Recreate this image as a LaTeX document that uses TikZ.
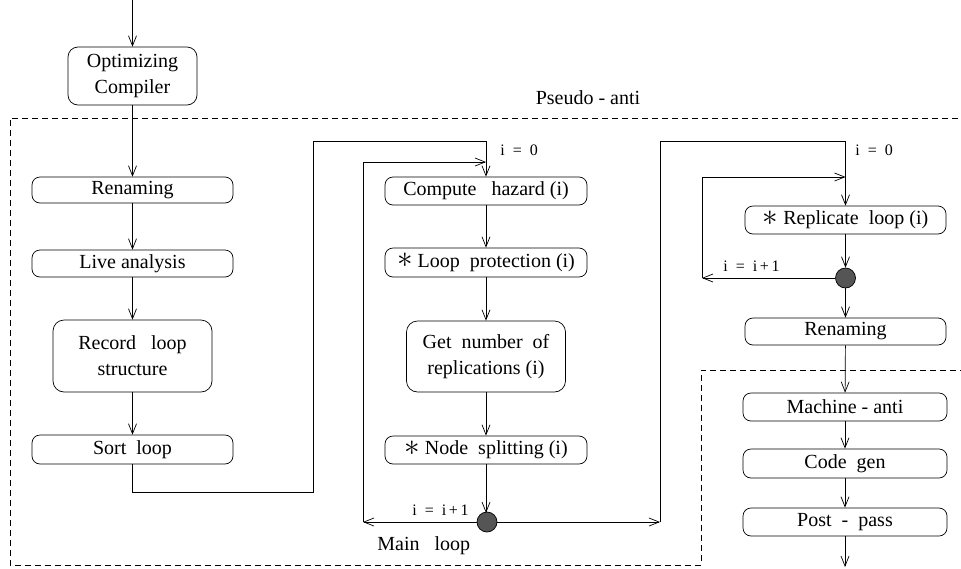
\documentclass[tikz,border=0pt]{standalone}
\usepackage{fontspec}
\setmainfont{Liberation Serif}
\usetikzlibrary{arrows.meta}
\newcommand{\starmark}{\raisebox{-0.5pt}{\scalebox{1.5}{$\ast$}}}
\begin{document}
\begin{tikzpicture}[x=1pt,y=-1pt,
  line width=0.7pt,
  >={Straight Barb[length=10pt,width=8pt,line width=0.7pt]},
  proc/.style={draw,rounded corners=8pt,inner sep=0pt,align=center,
    font=\fontsize{20}{26}\selectfont},
  procw/.style={proc,minimum width=201pt,minimum height=28pt},
  procn/.style={proc,minimum width=159pt,minimum height=72pt,rounded corners=11pt},
  junction/.style={circle,draw,fill={rgb,255:red,85;green,85;blue,85},
    minimum size=20pt,inner sep=0pt},
  lbl/.style={inner sep=0pt,font=\fontsize{16}{18}\selectfont},
  biglbl/.style={inner sep=0pt,font=\fontsize{20}{22}\selectfont},
  region/.style={dash pattern=on 6pt off 4pt}]
\useasboundingbox (0,0) rectangle (961,568);

% dashed regions
\draw[region] (958,118) -- (10,118) -- (10,565) -- (701,565) -- (701,370) -- (961,370);
\node[biglbl] (pseudo) at (588,98) {Pseudo - anti};

% left column
\coordinate (entry) at (132.5,0);
\node[proc,minimum width=129pt,minimum height=58pt,rounded corners=10pt] (opt) at (132.5,76) {Optimizing\\Compiler};
\node[procw,minimum height=26pt] (ren1) at (132.5,190) {Renaming};
\node[procw,minimum height=27pt] (live) at (132.5,263.5) {Live analysis};
\node[procn] (rec) at (132.5,356) {Record\ \ \ loop\\structure};
\node[procw,minimum height=29pt] (sort) at (132.5,449.5) {Sort\ \ loop};

\draw[->] (entry) -- (opt);
\draw[->] (opt) -- (ren1);
\draw[->] (ren1) -- (live);
\draw[->] (live) -- (rec);
\draw[->] (rec) -- (sort);

% main loop
\node[procw,minimum width=202pt] (haz) at (486,191) {Compute\ \ \ hazard (i)};
\node[procw,minimum width=202pt,minimum height=29pt] (prot) at (486,262.5) {\starmark\ Loop\ \ protection (i)};
\node[procn,minimum height=71pt] (getn) at (486,356.5) {Get\ \ number\ \ of\\replications (i)};
\node[procw,minimum width=202pt] (split) at (486,450) {\starmark\ Node\ \ splitting (i)};
\node[junction] (c1) at (487,522) {};

\coordinate (s1) at (132.5,492);
\coordinate (s2) at (313,492);
\coordinate (s3) at (313,141);
\coordinate (s4) at (486,141);
\draw[->] (sort.south) -- (s1) -- (s2) -- (s3) -- (s4) -- (haz.north);

\coordinate (b1) at (363,522);
\coordinate (b2) at (363,162);
\coordinate (b3) at (486,162);
\draw[->] (c1.west) -- (b1);
\draw[->] (b1) -- (b2) -- (b3);

\draw[->] (haz) -- (prot);
\draw[->] (prot) -- (getn);
\draw[->] (getn) -- (split);
\draw[->] (split.south) -- (486,513);

\node[lbl,anchor=west] (i0a) at (500,150) {i\ \ =\ \ 0};
\node[lbl,anchor=east] (inca) at (469,510) {i\ \ =\ \ i\,+\,1};
\node[biglbl,anchor=west] (mainloop) at (377,546) {Main\ \ \ loop};

% replication loop
\node[procw] (rep) at (845.5,220) {\starmark\ Replicate\ \ loop (i)};
\node[junction] (c2) at (845.5,278) {};
\node[procw,minimum height=27pt] (ren2) at (845.5,331.5) {Renaming};

\coordinate (r1) at (660,522);
\coordinate (r2) at (660,141);
\coordinate (r3) at (845.5,141);
\draw[->] (c1.east) -- (r1);
\draw[->] (r1) -- (r2) -- (r3) -- (rep.north);

\coordinate (q1) at (702,278);
\coordinate (q2) at (702,177);
\coordinate (q3) at (845.5,177);
\draw[->] (c2.west) -- (q1);
\draw[->] (q1) -- (q2) -- (q3);

\draw[->] (rep.south) -- (c2.north);
\draw[->] (c2.south) -- (ren2.north);

\node[lbl,anchor=west] (i0b) at (855,150) {i\ \ =\ \ 0};
\node[lbl,anchor=west] (incb) at (723,266) {i\ \ =\ \ i\,+\,1};

% back end
\node[procw,minimum width=204pt] (mach) at (845,407) {Machine - anti};
\node[procw,minimum width=204pt,minimum height=29pt] (code) at (845,463.5) {Code\ \ gen};
\node[procw,minimum width=204pt] (post) at (845,522) {Post\ \ -\ \ pass};
\coordinate (exit) at (845,567);

\draw[->] (ren2) -- (mach);
\draw[->] (mach) -- (code);
\draw[->] (code) -- (post);
\draw[->] (post) -- (exit);
\end{tikzpicture}
\end{document}
